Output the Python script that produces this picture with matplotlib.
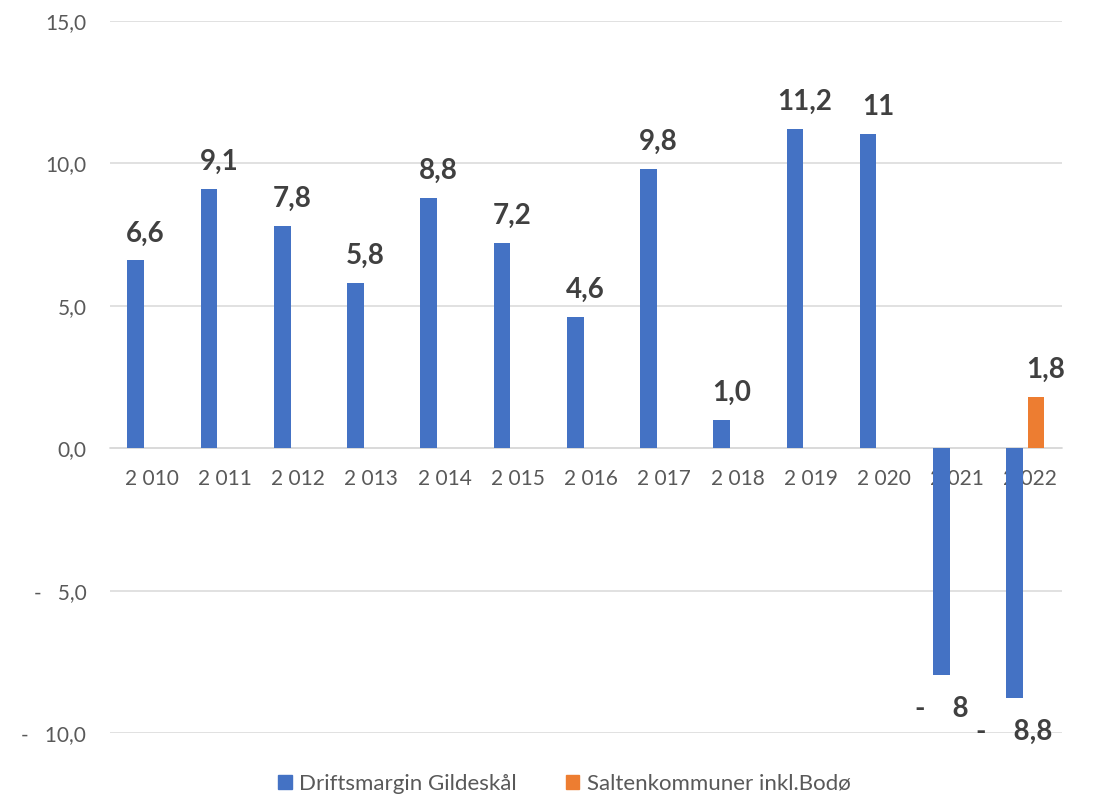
import numpy as np
import matplotlib
matplotlib.use('Agg')
from matplotlib import pyplot as plt
from matplotlib.transforms import ScaledTranslation
from matplotlib.patches import Patch

years = ['2 010', '2 011', '2 012', '2 013', '2 014', '2 015', '2 016',
         '2 017', '2 018', '2 019', '2 020', '2 021', '2 022']
gildeskal = [6.6, 9.1, 7.8, 5.8, 8.8, 7.2, 4.6, 9.8, 1.0, 11.2, 11.05, -7.96, -8.77]
gildeskal_labels = ['6,6', '9,1', '7,8', '5,8', '8,8', '7,2', '4,6', '9,8', '1,0',
                    '11,2', '11', '-    8', '-    8,8']
salten = [np.nan] * 12 + [1.8]
salten_labels = [''] * 12 + ['1,8']
yticks = [-10, -5, 0, 5, 10, 15]
ytick_labels = ['-   10,0', '-   5,0', '0,0', '5,0', '10,0', '15,0']

blue = '#4472C4'
orange = '#ED7D31'
grey = '#595959'
dark = '#404040'

plt.rcParams['font.family'] = ['Lato', 'DejaVu Sans']

fig = plt.figure(figsize=(10.94, 7.96), dpi=100)
ax = fig.add_axes([0.1005, 0.0791, 0.8702, 0.8945])

x = np.arange(len(years))
w = 0.228
off = 0.147
ax.bar(x - off, gildeskal, w, color=blue, zorder=3)
ax.bar(x + off, salten, w, color=orange, zorder=3)

ax.set_xlim(-0.5, len(years) - 0.5)
ax.set_ylim(-10, 15)
ax.set_yticks(yticks)
ax.set_yticklabels(ytick_labels)
ax.set_xticks(x)
ax.set_xticklabels(years)
ax.grid(axis='y', color='#d9d9d9', linewidth=1.1, zorder=0)
for s in ['top', 'right', 'left']:
    ax.spines[s].set_visible(False)
ax.spines['bottom'].set_position(('data', 0))
ax.spines['bottom'].set_color('#d9d9d9')
ax.spines['bottom'].set_linewidth(1.1)
ax.tick_params(axis='both', length=0, labelsize=15, labelcolor=grey)
ax.tick_params(axis='y', pad=17)
ax.tick_params(axis='x', pad=15)
shift = ScaledTranslation(5 / 100, 0, fig.dpi_scale_trans)
for lbl in ax.get_xticklabels():
    lbl.set_transform(lbl.get_transform() + shift)

for i, v in enumerate(gildeskal):
    if v >= 0:
        ax.annotate(gildeskal_labels[i], (x[i] - off, v), xytext=(7, 10),
                    textcoords='offset points', ha='center', va='bottom',
                    fontsize=20, fontweight='bold', color=dark)
    else:
        ax.annotate(gildeskal_labels[i], (x[i] - off, v), xytext=(0, -15),
                    textcoords='offset points', ha='center', va='top',
                    fontsize=20, fontweight='bold', color=dark)
for i, v in enumerate(salten):
    if not np.isnan(v):
        ax.annotate(salten_labels[i], (x[i] + off, v), xytext=(7, 10),
                    textcoords='offset points', ha='center', va='bottom',
                    fontsize=20, fontweight='bold', color=dark)

handles = [Patch(color=blue, label='Driftsmargin Gildeskål'),
           Patch(color=orange, label='Saltenkommuner inkl.Bodø')]
fig.legend(handles=handles, loc='lower center', bbox_to_anchor=(0.516, -0.022),
           ncol=2, frameon=False, fontsize=16, labelcolor=grey,
           handlelength=0.6, handleheight=0.6, handletextpad=0.35, columnspacing=2.2)

fig.savefig('out.png', dpi=100)
